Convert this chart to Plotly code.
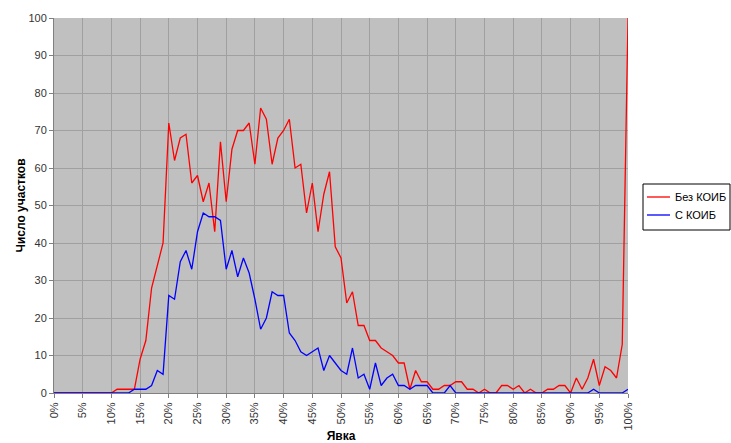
import plotly.graph_objects as go

turnout = list(range(0, 101))
tick_vals = list(range(0, 101, 5))
tick_text = [f"{v}%" for v in tick_vals]

bez_koib = [0]*10 + [0, 1, 1, 1, 1, 9, 14, 28, 34, 40,
    72, 62, 68, 69, 56, 58, 51, 56, 43, 67,
    51, 65, 70, 70, 72, 61, 76, 73, 61, 68,
    70, 73, 60, 61, 48, 56, 43, 53, 59, 39,
    36, 24, 27, 18, 18, 14, 14, 12, 11, 10,
    8, 8, 1, 6, 3, 3, 1, 1, 2, 2,
    3, 3, 1, 1, 0, 1, 0, 0, 2, 2,
    1, 2, 0, 1, 0, 0, 1, 1, 2, 2,
    0, 4, 1, 4, 9, 2, 7, 6, 4, 13,
    100]

s_koib = [0]*10 + [0, 0, 0, 0, 1, 1, 1, 2, 6, 5,
    26, 25, 35, 38, 33, 43, 48, 47, 47, 46,
    33, 38, 31, 36, 32, 25, 17, 20, 27, 26,
    26, 16, 14, 11, 10, 11, 12, 6, 10, 8,
    6, 5, 12, 4, 5, 1, 8, 2, 4, 5,
    2, 2, 1, 2, 2, 2, 0, 0, 0, 2,
    0, 0, 0, 0, 0, 0, 0, 0, 0, 0,
    0, 0, 0, 0, 0, 0, 0, 0, 0, 0,
    0, 0, 0, 0, 1, 0, 0, 0, 0, 0,
    1]

series_names = ["Без КОИБ", "С КОИБ"]
series_colors = ["#FF0000", "#0000FF"]

W, H = 731, 443
ML, MR, MT, MB = 54, 103, 18, 50
PW, PH = W - ML - MR, H - MT - MB


def px_x(px):
    return (px - ML) / PW


def px_y(py):
    return (H - MB - py) / PH


fig = go.Figure()
for name, vals, col in zip(series_names, [bez_koib, s_koib], series_colors):
    fig.add_trace(go.Scatter(x=turnout, y=vals, mode="lines", name=name,
                             line=dict(color=col, width=1.3), showlegend=False))

# custom legend box (Excel style)
shapes = [dict(type="rect", xref="paper", yref="paper",
               x0=px_x(643), x1=px_x(730), y0=px_y(230), y1=px_y(184),
               line=dict(color="#000000", width=1), fillcolor="white")]
annotations = []
for k, (name, col) in enumerate(zip(series_names, series_colors)):
    yy = 197 + 18 * k
    shapes.append(dict(type="line", xref="paper", yref="paper",
                       x0=px_x(647), x1=px_x(670), y0=px_y(yy), y1=px_y(yy),
                       line=dict(color=col, width=1.3)))
    annotations.append(dict(xref="paper", yref="paper", x=px_x(673), y=px_y(yy),
                            text=name, showarrow=False, xanchor="left", yanchor="middle",
                            font=dict(size=11, color="#000000")))

fig.update_layout(
    width=W, height=H,
    margin=dict(l=ML, r=MR, t=MT, b=MB, autoexpand=False),
    paper_bgcolor="white",
    plot_bgcolor="#C0C0C0",
    font=dict(family="Liberation Sans, Arial", size=11, color="#333333"),
    showlegend=False,
    shapes=shapes,
    annotations=annotations,
    xaxis=dict(range=[0, 100], tickmode="array", tickvals=tick_vals,
               ticktext=tick_text, tickangle=-90, automargin=False,
               showgrid=True, gridcolor="#A0A0A0", gridwidth=1,
               showline=True, linecolor="#808080", linewidth=1,
               ticks="outside", ticklen=4, tickcolor="#808080",
               zeroline=False,
               title=dict(text="<b>Явка</b>", font=dict(size=12, color="#000000"), standoff=5)),
    yaxis=dict(range=[0, 100], tickvals=list(range(0, 101, 10)), automargin=False,
               showgrid=True, gridcolor="#A0A0A0", gridwidth=1,
               showline=True, linecolor="#808080", linewidth=1,
               ticks="outside", ticklen=4, tickcolor="#808080",
               zeroline=False,
               title=dict(text="<b>Число участков</b>", font=dict(size=12, color="#000000"), standoff=0)),
)

fig.write_html("out.html", config={"displayModeBar": False},
               post_script="document.body.style.margin='0';document.body.style.overflow='hidden';")
